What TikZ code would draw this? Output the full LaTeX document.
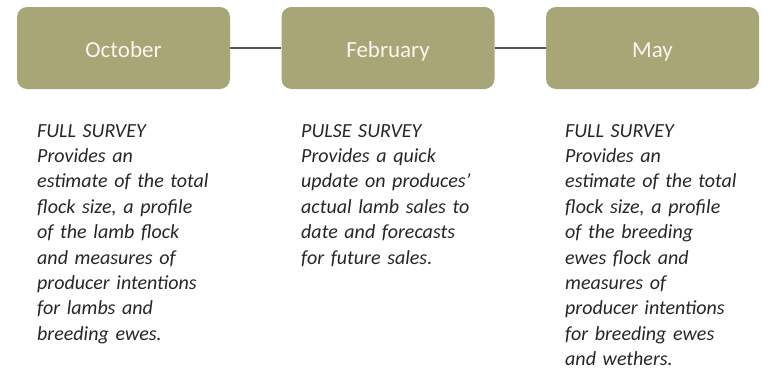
\documentclass[tikz,border=0pt]{standalone}
\usepackage{fontspec}
\setmainfont{Carlito}
\definecolor{olive}{HTML}{A8A577}
\definecolor{linkgray}{HTML}{555555}
\definecolor{boxtext}{HTML}{F7F7F0}
\begin{document}
\begin{tikzpicture}[x=1pt,y=-1pt,
  monthbox/.style={fill=olive, rounded corners=10pt, minimum width=213pt, minimum height=82pt, inner sep=0pt,
    text=boxtext, font=\fontsize{23}{26}\selectfont, text height=22pt, text depth=4pt},
  desc/.style={anchor=north west, inner sep=0pt, text width=220pt, align=left,
    font=\fontsize{20}{25.4}\selectfont\itshape, text=black!85},
  link/.style={draw=linkgray, line width=1.4pt}]
\useasboundingbox (0,0) rectangle (763,367);
\node[monthbox] (oct) at (123.5,48) {October};
\node[monthbox] (feb) at (388,48) {February};
\node[monthbox] (may) at (652.5,48) {May};
\draw[link] (oct) -- (feb);
\draw[link] (feb) -- (may);
\node[desc] (t1) at (37,124) {FULL SURVEY\\Provides an\\estimate of the total\\flock size, a profile\\of the lamb flock\\and measures of\\producer intentions\\for lambs and\\breeding ewes.};
\node[desc] (t2) at (301,124) {PULSE SURVEY\\Provides a quick\\update on produces’\\actual lamb sales to\\date and forecasts\\for future sales.};
\node[desc] (t3) at (565,124) {FULL SURVEY\\Provides an\\estimate of the total\\flock size, a profile\\of the breeding\\ewes flock and\\measures of\\producer intentions\\for breeding ewes\\and wethers.};
\end{tikzpicture}
\end{document}
